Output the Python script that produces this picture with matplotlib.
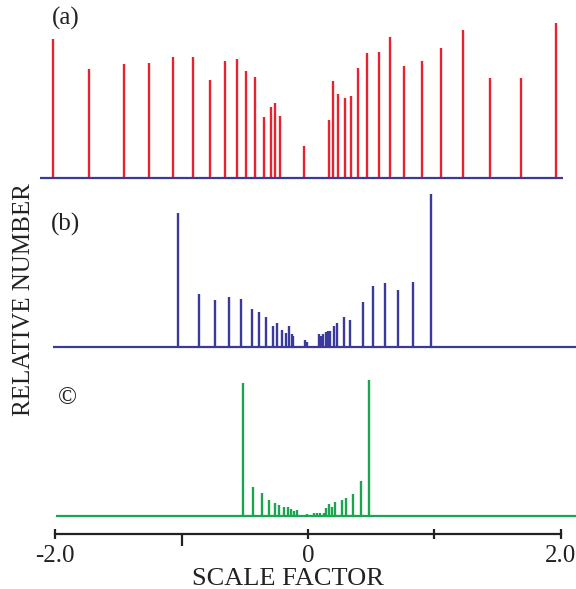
import matplotlib
matplotlib.use('Agg')
import matplotlib.pyplot as plt

plt.rcParams['font.family'] = ['Liberation Serif', 'DejaVu Serif']

# spike positions (scale factor) and heights (relative number)
a_x = [-2.013, -1.729, -1.457, -1.257, -1.067, -0.907, -0.777, -0.654, -0.564,
       -0.490, -0.416, -0.348, -0.295, -0.258, -0.221, -0.029, 0.168, 0.200,
       0.240, 0.290, 0.338, 0.398, 0.464, 0.564, 0.651, 0.761, 0.904, 1.049,
       1.225, 1.441, 1.684, 1.960]
a_y = [139, 109.3, 114.3, 115, 121.3, 121, 98.3, 117, 119, 107, 101.6, 61.6,
       71, 75.3, 62.6, 32.3, 58, 97.6, 84.6, 80, 82.6, 110.6, 125.3, 126.3,
       141.3, 112.3, 117, 130, 148, 100.6, 100.6, 155.6]

b_x = [-1.030, -0.864, -0.735, -0.625, -0.532, -0.443, -0.390, -0.330, -0.279,
       -0.245, -0.203, -0.176, -0.148, -0.129, -0.116, -0.024, -0.006, 0.087,
       0.103, 0.121, 0.140, 0.156, 0.172, 0.203, 0.232, 0.282, 0.334, 0.437,
       0.516, 0.609, 0.714, 0.832, 0.970]
b_y = [134, 52.7, 46.7, 50.3, 48, 37.7, 35.3, 29.7, 20.7, 23.7, 17.3, 14.3,
       21, 13, 11.3, 7, 5.3, 13.3, 11.3, 13, 15.3, 15.7, 15.7, 21.3, 23.7, 30,
       27, 45, 61.3, 64.3, 57, 65, 153]

c_x = [-0.516, -0.432, -0.364, -0.306, -0.258, -0.227, -0.192, -0.160, -0.134,
       -0.111, -0.087, -0.006, 0.047, 0.074, 0.095, 0.124, 0.142, 0.166, 0.187,
       0.213, 0.266, 0.303, 0.356, 0.417, 0.482]
c_y = [132.3, 28.3, 22.3, 15.3, 13, 10.7, 9, 8.7, 6.3, 4.7, 5.7, 1.3, 2.7, 2.7,
       2.7, 3, 7.3, 11.3, 9, 13.3, 15.7, 17.7, 21.7, 34.3, 135.7]

ticks = [-2, 0, 1, 2]
tick_labels = ['-2.0', '0', '', '2.0']

W, H = 576, 589
fig = plt.figure(figsize=(W / 100, H / 100), dpi=100)

XMIN, XMAX = -2.435, 2.119
panels = [
    # x, y, colour, baseline px, height px, line start, line end
    (a_x, a_y, '#e8232f', 178.3, 178.3, -2.119, 2.016),
    (b_x, b_y, '#3a3a9c', 347.0, 160.0, -2.016, XMAX),
    (c_x, c_y, '#1ba550', 515.7, 160.0, -1.992, XMAX),
]
base_cols = ['#3a3a9c', '#3a3a9c', '#1ba550']

axes = []
for (xs, ys, col, base, hpx, x0, x1), bcol in zip(panels, base_cols):
    ax = fig.add_axes([0, 1 - base / H, 1, hpx / H])
    ax.set_xlim(XMIN, XMAX)
    ax.set_ylim(0, hpx)
    ax.vlines(xs, 0, ys, color=col, lw=1.7)
    ax.hlines(0, x0, x1, color=bcol, lw=1.6, clip_on=False)
    ax.axis('off')
    axes.append(ax)

# scale axis under the last panel
ax = axes[-1]
ax.axis('on')
for s in ['top', 'left', 'right']:
    ax.spines[s].set_visible(False)
ax.spines['bottom'].set_position(('outward', 13.5))
ax.spines['bottom'].set_bounds(-2, 2)
ax.spines['bottom'].set_linewidth(1.6)
ax.spines['bottom'].set_color('#222222')
ax.set_yticks([])
ax.set_xticks(ticks)
ax.set_xticklabels(tick_labels)
ax.set_xticks([-1], minor=True)
ax.tick_params(axis='x', which='major', direction='inout', length=7, width=1.6,
               labelsize=18, pad=4, color='#222222', labelcolor='#222222')
ax.tick_params(axis='x', which='minor', direction='out', length=8.5, width=1.6,
               color='#222222')
ax.set_xlabel('SCALE FACTOR', fontsize=19, labelpad=1, color='#222222')

fig.text(24 / W, 1 - 300 / H, 'RELATIVE NUMBER', rotation=90, fontsize=18,
         ha='center', va='center', color='#222222')
for lab, (px, py) in zip(['(a)', '(b)', '©'], [(66, 18), (66, 224), (67, 398)]):
    fig.text(px / W, 1 - py / H, lab, fontsize=18, ha='center', va='center',
             color='#222222')

fig.savefig('out.png', dpi=100)
